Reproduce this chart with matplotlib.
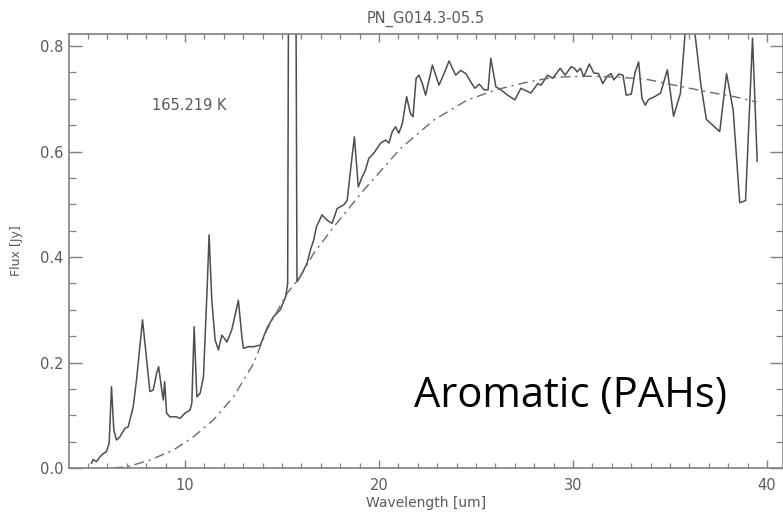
import matplotlib
matplotlib.use("Agg")
import matplotlib.pyplot as plt
from matplotlib.ticker import MultipleLocator

# Spectrum (wavelength in um, flux in Jy)
wavelength = [5.18, 5.26, 5.44, 5.61, 5.78, 5.95, 6.09, 6.21, 6.33, 6.47,
              6.64, 6.90, 7.07, 7.33, 7.50, 7.67, 7.81, 8.02, 8.19, 8.36,
              8.54, 8.64, 8.80, 8.88, 8.95, 9.05, 9.22, 9.57, 9.74, 10.00,
              10.26, 10.35, 10.47, 10.61, 10.78, 10.95, 11.15, 11.24, 11.38, 11.55,
              11.72, 11.90, 12.16, 12.41, 12.75, 12.93, 13.01, 13.27, 13.53, 13.88,
              14.22, 14.56, 14.91, 15.19, 15.29, 15.38, 15.66, 15.77, 15.94, 16.11,
              16.29, 16.46, 16.63, 16.77, 17.06, 17.32, 17.58, 17.84, 18.18, 18.36,
              18.53, 18.73, 18.93, 19.13, 19.30, 19.47, 19.73, 20.08, 20.34, 20.51,
              20.68, 20.85, 21.02, 21.20, 21.42, 21.62, 21.75, 21.91, 22.06, 22.23,
              22.40, 22.75, 23.09, 23.35, 23.61, 23.78, 23.95, 24.21, 24.47, 24.73,
              24.94, 25.16, 25.42, 25.62, 25.76, 26.02, 26.28, 26.63, 27.00, 27.31,
              27.48, 27.83, 28.18, 28.35, 28.69, 28.95, 29.34, 29.59, 29.90, 30.07,
              30.21, 30.38, 30.55, 30.84, 31.07, 31.31, 31.53, 31.76, 31.96, 32.10,
              32.36, 32.57, 32.74, 33.00, 33.20, 33.38, 33.55, 33.72, 33.89, 34.20,
              34.51, 34.86, 35.18, 35.53, 35.98, 36.58, 36.87, 37.56, 37.91, 38.25,
              38.59, 38.89, 39.25, 39.49]
flux = [0.009, 0.016, 0.012, 0.021, 0.027, 0.031, 0.047, 0.154, 0.072, 0.053,
        0.059, 0.075, 0.078, 0.116, 0.167, 0.230, 0.281, 0.205, 0.145, 0.148,
        0.180, 0.192, 0.148, 0.129, 0.164, 0.104, 0.097, 0.097, 0.094, 0.104,
        0.110, 0.123, 0.268, 0.135, 0.142, 0.173, 0.350, 0.442, 0.318, 0.243,
        0.224, 0.252, 0.239, 0.262, 0.318, 0.249, 0.227, 0.230, 0.230, 0.233,
        0.265, 0.287, 0.300, 0.325, 0.350, 1.500, 1.500, 0.353, 0.363, 0.375,
        0.388, 0.413, 0.432, 0.457, 0.480, 0.470, 0.464, 0.492, 0.499, 0.508,
        0.565, 0.628, 0.533, 0.552, 0.565, 0.587, 0.597, 0.616, 0.622, 0.616,
        0.638, 0.647, 0.635, 0.653, 0.704, 0.672, 0.666, 0.739, 0.745, 0.729,
        0.707, 0.764, 0.726, 0.748, 0.772, 0.758, 0.745, 0.754, 0.748, 0.732,
        0.720, 0.728, 0.717, 0.717, 0.777, 0.723, 0.717, 0.707, 0.698, 0.720,
        0.717, 0.711, 0.729, 0.726, 0.745, 0.739, 0.758, 0.745, 0.761, 0.758,
        0.751, 0.758, 0.742, 0.766, 0.749, 0.748, 0.729, 0.743, 0.748, 0.736,
        0.747, 0.745, 0.707, 0.709, 0.751, 0.770, 0.701, 0.688, 0.699, 0.704,
        0.711, 0.755, 0.667, 0.710, 0.920, 0.729, 0.661, 0.638, 0.748, 0.679,
        0.503, 0.507, 0.815, 0.582]

# Blackbody continuum fit (dash-dot)
bb_wavelength = [5.20, 6.12, 6.99, 8.19, 9.40, 10.43, 11.46, 12.50, 13.53, 14.22,
                 15.26, 15.94, 16.63, 17.66, 19.21, 21.11, 22.83, 24.56, 26.11, 27.66,
                 29.03, 30.76, 32.48, 33.94, 35.23, 36.96, 38.34, 39.46]
bb_flux = [-0.002, 0.000, 0.002, 0.015, 0.034, 0.059, 0.091, 0.135, 0.198, 0.262,
           0.331, 0.363, 0.407, 0.457, 0.527, 0.606, 0.660, 0.698, 0.718, 0.732,
           0.741, 0.743, 0.741, 0.736, 0.726, 0.713, 0.704, 0.694]

title = "PN_G014.3-05.5"
temp_label = "165.219 K"
note = "Aromatic (PAHs)"

W, H = 783, 518
fig = plt.figure(figsize=(W / 100, H / 100), dpi=100)
ax = fig.add_axes([69 / W, 1 - 468 / H, (W - 69) / W, (468 - 34) / H])

grey = "#5a5a5a"
ax.plot(wavelength, flux, color="#4d4d4d", lw=1.1)
ax.plot(bb_wavelength, bb_flux, color="#6a6a6a", lw=1.0,
        linestyle=(0, (7, 3.5, 1.5, 3.5)))

ax.set_xlim(4.02, 40.82)
ax.set_ylim(0, 0.823)

ax.xaxis.set_major_locator(MultipleLocator(10))
ax.xaxis.set_minor_locator(MultipleLocator(1))
ax.yaxis.set_major_locator(MultipleLocator(0.2))
ax.yaxis.set_minor_locator(MultipleLocator(0.05))
ax.yaxis.set_major_formatter(plt.FuncFormatter(lambda v, p: f"{v:.1f}"))

ax.tick_params(axis="x", which="major", direction="in", length=6, width=1,
               top=True, color="#808080", labelcolor=grey, labelsize=10.5, pad=7)
ax.tick_params(axis="x", which="minor", direction="in", length=3.3, width=0.9,
               top=True, color="#808080")
ax.tick_params(axis="y", which="major", direction="in", length=9.5, width=1,
               right=True, color="#808080", labelcolor=grey, labelsize=10.5, pad=4)
ax.tick_params(axis="y", which="minor", direction="in", length=5, width=0.9,
               right=True, color="#808080")
for s in ax.spines.values():
    s.set_color("#808080")
    s.set_linewidth(1.2)

ax.set_xlabel("Wavelength [um]", color=grey, fontsize=10, labelpad=2)
ax.set_ylabel("Flux [Jy]", color=grey, fontsize=9, labelpad=12)

fig.text(426 / W, 1 - 19 / H, title, ha="center", va="center",
         color=grey, fontsize=10.5)
fig.text(189 / W, 1 - 105 / H, temp_label, ha="center", va="center",
         color=grey, fontsize=10.5)
fig.text(414 / W, 1 - 407 / H, note, ha="left", va="baseline",
         color="black", fontsize=30, family="Open Sans")

fig.savefig("out.png", dpi=100)
